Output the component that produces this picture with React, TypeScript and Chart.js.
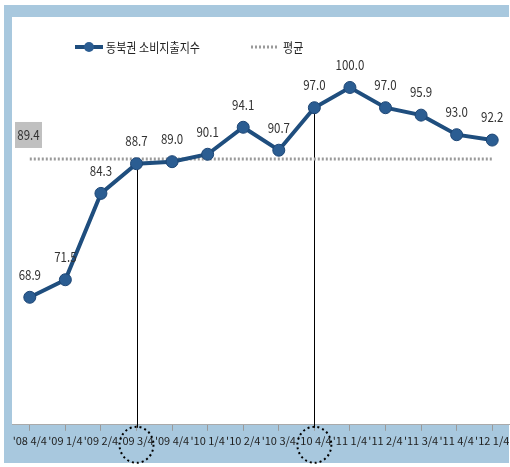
import React, { useEffect, useRef } from "react";
import { Chart, registerables } from "chart.js";

Chart.register(...registerables);

const categories = ["'08 4/4", "'09 1/4", "'09 2/4", "'09 3/4", "'09 4/4", "'10 1/4", "'10 2/4", "'10 3/4", "'10 4/4", "'11 1/4", "'11 2/4", "'11 3/4", "'11 4/4", "'12 1/4"];
const indexValues = [68.9, 71.5, 84.3, 88.7, 89.0, 90.1, 94.1, 90.7, 97.0, 100.0, 97.0, 95.9, 93.0, 92.2];
const averageValue = 89.4;
const highlightedIndices = [3, 8];
const seriesName = "동북권 소비지출지수";
const averageName = "평균";

const FONT = "'Noto Sans CJK KR', 'Noto Sans', sans-serif";
const LINE_COLOR = "#1f4e7e";
const FRAME_BLUE = "#a8c8de";
const W = 510;
const H = 467;

function narrowText(ctx: CanvasRenderingContext2D, text: string, x: number, y: number, sx: number) {
  ctx.save();
  ctx.translate(x, y);
  ctx.scale(sx, 1);
  ctx.fillText(text, 0, 0);
  ctx.restore();
}

const overlayPlugin = {
  id: "overlay",
  beforeDatasetsDraw(chart: any) {
    const ctx = chart.ctx;
    const meta = chart.getDatasetMeta(0);
    ctx.save();
    ctx.strokeStyle = "#000";
    ctx.lineWidth = 1;
    highlightedIndices.forEach((i) => {
      const p = meta.data[i];
      ctx.beginPath();
      ctx.moveTo(Math.round(p.x) + 0.5, p.y);
      ctx.lineTo(Math.round(p.x) + 0.5, chart.chartArea.bottom + 3);
      ctx.stroke();
    });
    ctx.restore();
  },
  afterDraw(chart: any) {
    const ctx = chart.ctx;
    const meta = chart.getDatasetMeta(0);
    const yScale = chart.scales.y;
    ctx.save();
    // data labels
    ctx.font = `14px ${FONT}`;
    ctx.fillStyle = "#333";
    ctx.textAlign = "center";
    ctx.textBaseline = "middle";
    meta.data.forEach((p: any, i: number) => {
      narrowText(ctx, indexValues[i].toFixed(1), p.x, p.y - 23, 0.82);
    });
    // average label box
    const avgY = yScale.getPixelForValue(averageValue);
    ctx.fillStyle = "#c0c0c0";
    ctx.fillRect(15, avgY - 37, 27, 26);
    ctx.fillStyle = "#333";
    narrowText(ctx, averageValue.toFixed(1), 28.5, avgY - 24, 0.82);
    // dotted ellipses around highlighted labels
    ctx.strokeStyle = "#000";
    ctx.lineWidth = 2;
    ctx.setLineDash([2, 3]);
    highlightedIndices.forEach((i) => {
      const p = meta.data[i];
      ctx.beginPath();
      ctx.ellipse(p.x, chart.chartArea.bottom + 20, 17, 18, 0, 0, Math.PI * 2);
      ctx.stroke();
    });
    ctx.setLineDash([]);
    // legend
    ctx.strokeStyle = LINE_COLOR;
    ctx.lineWidth = 4;
    ctx.beginPath();
    ctx.moveTo(75, 47);
    ctx.lineTo(103, 47);
    ctx.stroke();
    ctx.fillStyle = "#2b5d92";
    ctx.beginPath();
    ctx.arc(89, 47, 5, 0, Math.PI * 2);
    ctx.fill();
    ctx.fillStyle = "#222";
    ctx.textAlign = "left";
    ctx.font = `13px ${FONT}`;
    narrowText(ctx, seriesName, 106, 47, 0.85);
    ctx.strokeStyle = "#9a9a9a";
    ctx.lineWidth = 3;
    ctx.setLineDash([2, 2]);
    ctx.beginPath();
    ctx.moveTo(251, 47);
    ctx.lineTo(278, 47);
    ctx.stroke();
    ctx.setLineDash([]);
    narrowText(ctx, averageName, 283, 47, 0.85);
    ctx.restore();
  },
};

function makeChart(canvas: HTMLCanvasElement) {
  return new Chart(canvas, {
    type: "line",
    data: {
      labels: categories,
      datasets: [
        {
          label: seriesName,
          data: indexValues,
          borderColor: LINE_COLOR,
          borderWidth: 4,
          pointRadius: 6,
          pointBackgroundColor: "#2b5d92",
          pointBorderColor: "#1d4675",
          pointBorderWidth: 1,
          tension: 0,
          order: 0,
        },
        {
          label: averageName,
          data: categories.map(() => averageValue),
          borderColor: "#9a9a9a",
          borderWidth: 3,
          borderDash: [2, 2],
          pointRadius: 0,
          order: 1,
        },
      ],
    },
    options: {
      animation: false,
      responsive: false,
      layout: { padding: { left: 12, right: 0, top: 20, bottom: 17 } },
      plugins: { legend: { display: false }, tooltip: { enabled: false } },
      scales: {
        x: {
          offset: true,
          grid: { drawOnChartArea: false, tickLength: 6, color: "#999" },
          border: { color: "#aaa", width: 1 },
          ticks: {
            font: { family: FONT, size: 11 },
            color: "#222",
            maxRotation: 0,
            minRotation: 0,
            autoSkip: false,
            padding: 3,
          },
        },
        y: { display: false, min: 50, max: 110 },
      },
    },
    plugins: [overlayPlugin],
  });
}

export default function App() {
  const ref = useRef<HTMLCanvasElement | null>(null);
  useEffect(() => {
    document.documentElement.style.margin = "0";
    document.body.style.margin = "0";
    document.body.style.overflow = "hidden";
    const canvas = ref.current as HTMLCanvasElement;
    let chart = makeChart(canvas);
    // the last tick label makes Chart.js reserve right padding; widen the (clipped) canvas so the plot reaches the edge
    const over = Math.round(W - chart.chartArea.right);
    if (over > 0) {
      chart.destroy();
      canvas.width = W + over;
      canvas.height = H;
      canvas.style.width = `${W + over}px`;
      canvas.style.height = `${H}px`;
      chart = makeChart(canvas);
    }
    return () => chart.destroy();
  }, []);
  return (
    <div style={{ position: "relative", width: W, height: H, background: "#fff", overflow: "hidden" }}>
      <div style={{ position: "absolute", left: 4, top: 5, width: 505, height: 458, background: FRAME_BLUE }} />
      <div style={{ position: "absolute", left: 12, top: 17, width: 498, height: 408, background: "#fff" }} />
      <canvas ref={ref} width={W} height={H} style={{ position: "absolute", left: 0, top: 0 }} />
    </div>
  );
}
